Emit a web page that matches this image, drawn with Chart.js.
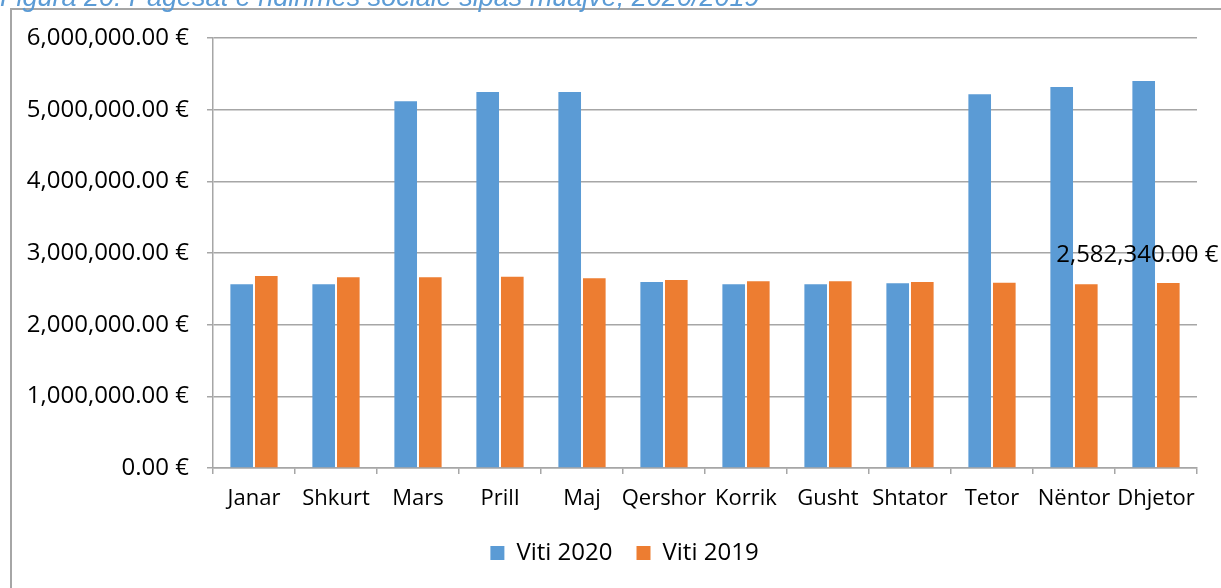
<!DOCTYPE html>
<html>
<head>
<meta charset="utf-8">
<script src="https://cdn.jsdelivr.net/npm/chart.js@4.4.1/dist/chart.umd.min.js"></script>
<style>
  html, body { margin: 0; padding: 0; background: #fff; overflow: hidden; }
  #wrap { position: relative; width: 1221px; height: 588px; }
  #fig-title {
    position: absolute; left: 0; top: -17px; white-space: nowrap;
    font: italic 27px "Liberation Sans", Arial, sans-serif; line-height: 28px;
    color: #5B9BD5;
  }
  canvas { position: absolute; left: 0; top: 0; }
</style>
</head>
<body>
<div id="wrap">
  <canvas id="chart" width="1221" height="588"></canvas>
  <div id="fig-title">Figura 20: Pagesat e ndihmës sociale sipas muajve, 2020/2019</div>
</div>
<script>
// months (x categories)
const months = ['Janar', 'Shkurt', 'Mars', 'Prill', 'Maj', 'Qershor', 'Korrik', 'Gusht', 'Shtator', 'Tetor', 'Nëntor', 'Dhjetor'];
// payments per month
const viti2020 = [2563000, 2563000, 5116000, 5246000, 5246000, 2595000, 2563000, 2563000, 2577000, 5214000, 5316000, 5400000];
const viti2019 = [2679000, 2661000, 2661000, 2670000, 2646000, 2623000, 2605000, 2605000, 2595000, 2586000, 2563000, 2582340];
const yTicks = [0, 1000000, 2000000, 3000000, 4000000, 5000000, 6000000];

const gridGray = '#A6A6A6';

function euro(v) {
  return v.toLocaleString('en-US', { minimumFractionDigits: 2, maximumFractionDigits: 2 }) + ' €';
}

// outer frame of the figure, cut by the page edge
const framePlugin = {
  id: 'frame',
  afterLayout(chart) { // legend sits a bit right of the page centre in the original
    chart.legend.left += 26;
    chart.legend.right += 26;
  },
  beforeDraw(chart) {
    const ctx = chart.ctx;
    ctx.save();
    ctx.strokeStyle = '#A6A6A6';
    ctx.lineWidth = 2;
    ctx.strokeRect(11, 9, 1400, 800);
    ctx.restore();
  }
};

// the single data label over December 2019
const labelPlugin = {
  id: 'decLabel',
  afterDatasetsDraw(chart) {
    const bar = chart.getDatasetMeta(1).data[11];
    const ctx = chart.ctx;
    ctx.save();
    ctx.font = '24px "Open Sans"';
    ctx.fillStyle = '#000';
    ctx.textAlign = 'center';
    ctx.textBaseline = 'middle';
    ctx.fillText(euro(viti2019[11]), bar.x - 31, bar.y - 28);
    ctx.restore();
  }
};

new Chart(document.getElementById('chart'), {
  type: 'bar',
  data: {
    labels: months,
    datasets: [
      { label: 'Viti 2020', data: viti2020, backgroundColor: '#5B9BD5' },
      { label: 'Viti 2019', data: viti2019, backgroundColor: '#ED7D31' }
    ]
  },
  options: {
    responsive: false,
    animation: false,
    events: [],
    categoryPercentage: 0.6,
    barPercentage: 0.92,
    layout: { padding: { left: 0, right: 24, top: 38, bottom: 13 } },
    plugins: {
      tooltip: { enabled: false },
      legend: {
        position: 'bottom',
        labels: {
          boxWidth: 14, boxHeight: 14, padding: 24,
          color: '#000',
          font: { family: 'Open Sans', size: 24 }
        }
      }
    },
    scales: {
      x: {
        afterFit(scale) { scale.height = 49; },
        grid: { offset: true, drawOnChartArea: false, color: gridGray, tickLength: 6, lineWidth: 1.5 },
        border: { color: gridGray, width: 1.5 },
        ticks: { color: '#000', font: { family: 'Open Sans', size: 22 }, padding: 12, maxRotation: 0, autoSkip: false }
      },
      y: {
        min: 0, max: 6000000,
        afterFit(scale) { scale.width = 213; },
        afterBuildTicks(scale) { scale.ticks = yTicks.map(v => ({ value: v })); },
        grid: { color: gridGray, tickLength: 6, lineWidth: 1.5 },
        border: { color: gridGray, width: 1.5 },
        ticks: { color: '#000', font: { family: 'Open Sans', size: 24 }, padding: 18, callback: v => euro(v) }
      }
    }
  },
  plugins: [framePlugin, labelPlugin]
});
</script>
</body>
</html>
